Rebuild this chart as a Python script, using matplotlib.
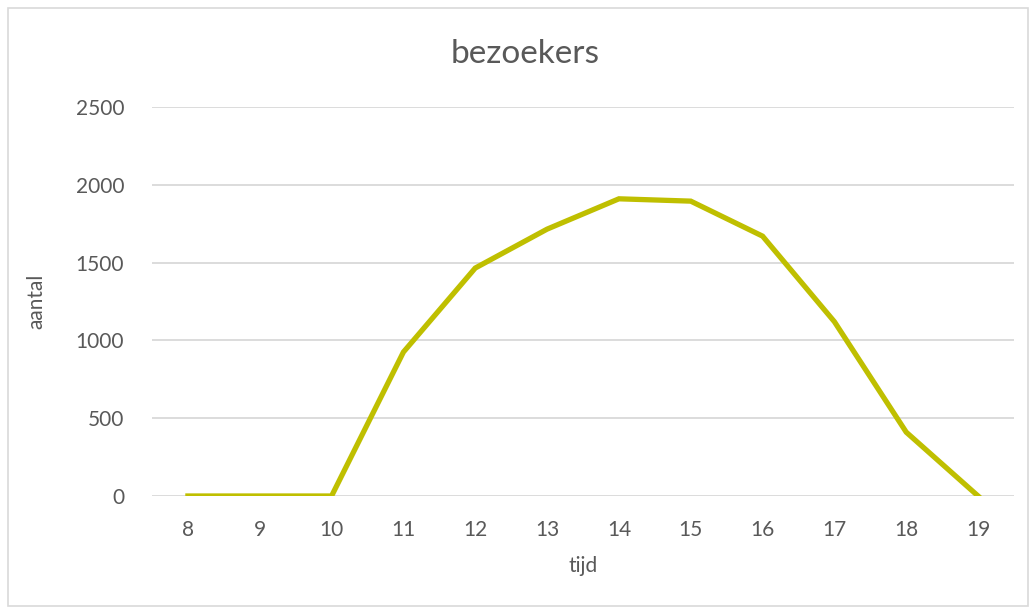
import numpy as np
import matplotlib
matplotlib.use("Agg")
import matplotlib.pyplot as plt
from matplotlib.patches import Rectangle

tijd = [8, 9, 10, 11, 12, 13, 14, 15, 16, 17, 18, 19]
aantal = [0, 0, 0, 925, 1465, 1715, 1910, 1895, 1670, 1120, 410, 0]

plt.rcParams['font.family'] = ['Lato', 'DejaVu Sans']
grey = '#595959'

fig = plt.figure(figsize=(10.34, 6.10), dpi=100)
ax = fig.add_axes([152 / 1034, 1 - 496 / 610, (1014 - 152) / 1034, (496 - 107) / 610])

ax.plot(tijd, aantal, color='#BFBF00', linewidth=3.8, solid_joinstyle='miter')
ax.set_xlim(7.5, 19.5)
ax.set_ylim(0, 2500)
ax.set_xticks(tijd)
ax.set_yticks(np.arange(0, 2501, 500))
ax.grid(axis='y', color='#D9D9D9', linewidth=1.3)
ax.set_axisbelow(True)
for s in ax.spines.values():
    s.set_visible(False)
ax.tick_params(length=0, labelsize=15, colors=grey, pad=20)
ax.tick_params(axis='x', pad=17)

ax.set_xlabel('tijd', fontsize=15, color=grey, labelpad=12)
ax.set_ylabel('aantal', fontsize=15, color=grey, labelpad=21)
fig.text(525 / 1034, 1 - 54 / 610, 'bezoekers', fontsize=24, color=grey,
         ha='center', va='center')

fig.patches.append(Rectangle((8 / 1034, 4 / 610), 1020 / 1034, 598 / 610,
                             transform=fig.transFigure, fill=False,
                             edgecolor='#D9D9D9', linewidth=1.2))

fig.savefig('out.png', dpi=100)
